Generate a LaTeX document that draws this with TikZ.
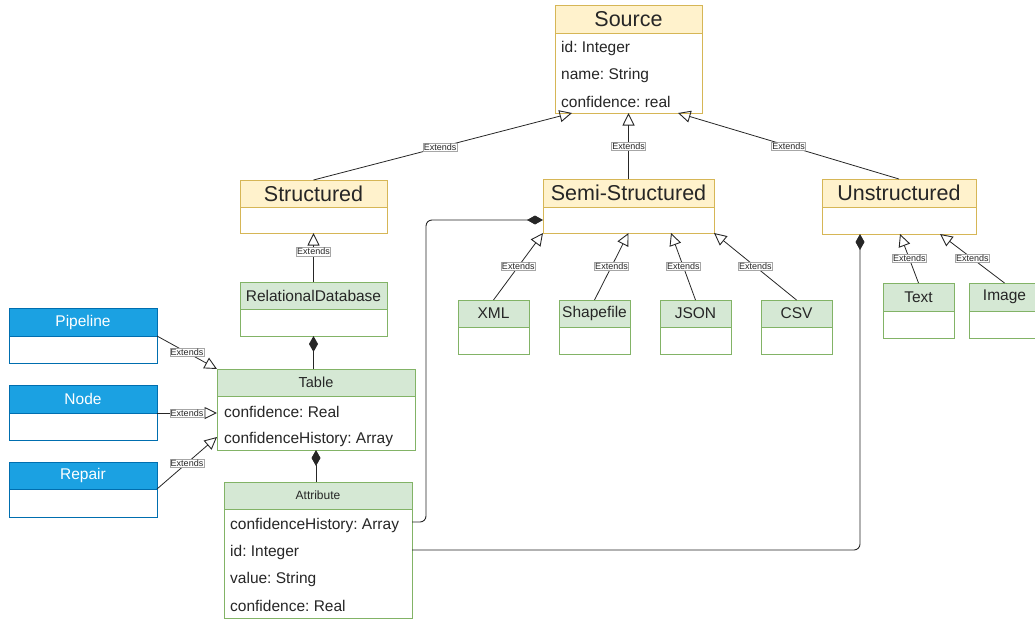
\documentclass[tikz,border=0pt]{standalone}
\usepackage{fontspec}
\setmainfont{Liberation Sans}
\usetikzlibrary{arrows.meta,calc}
\definecolor{ylfill}{HTML}{FFF2CC}
\definecolor{ylline}{HTML}{D6B656}
\definecolor{grfill}{HTML}{D5E8D4}
\definecolor{grline}{HTML}{82B366}
\definecolor{blfill}{HTML}{1BA1E2}
\definecolor{blline}{HTML}{006EAF}
\definecolor{ink}{HTML}{262626}

% class box: header node #1 and body node #1b
% #1 name, #2 x, #3 y, #4 width, #5 header height, #6 body height, #7 style prefix, #8 title
\newcommand\umlclass[8]{%
  \node[#7head, minimum width=#4pt, minimum height=#5pt] (#1) at (#2,#3) {#8};
  \node[#7body, minimum width=#4pt, minimum height=#6pt] (#1b) at (#1.south west) {};
}

\begin{document}
\frenchspacing
\begin{tikzpicture}[x=1pt,y=-1pt,
  box/.style={draw, anchor=north west, inner sep=0pt, outer sep=0pt, line width=1pt, text=ink},
  yhead/.style={box, draw=ylline, fill=ylfill, font=\fontsize{21.5}{24}\selectfont},
  ybody/.style={box, draw=ylline, fill=white},
  ghead/.style={box, draw=grline, fill=grfill, font=\fontsize{15.5}{18}\selectfont},
  gbody/.style={box, draw=grline, fill=white},
  bhead/.style={box, draw=blline, fill=blfill, text=white, font=\fontsize{15.5}{18}\selectfont},
  bbody/.style={box, draw=blline, fill=white},
  row/.style={anchor=west, inner sep=0pt, text=ink, font=\fontsize{15.5}{18}\selectfont},
  ext/.style={draw=ink, line width=0.8pt, -{Triangle[open, length=12.5pt, width=12pt, line width=0.9pt]}},
  compo/.style={draw=ink, line width=0.9pt, rounded corners=6pt, {Diamond[length=16pt, width=9pt]}-},
  lbl/.style={fill=white, draw=black!35, line width=0.4pt, inner sep=0.8pt, text=ink,
    font=\fontsize{9}{9}\selectfont}
]
\useasboundingbox (0,0) rectangle (1035,621);

% ---------- classes ----------
\umlclass{src}{555}{5}{147}{28}{80}{y}{Source}
\node[row] (s1) at (561,48) {id: Integer};
\node[row] (s2) at (561,75) {name: String};
\node[row] (s3) at (561,102) {confidence: real};

\umlclass{st}{240}{180}{147}{27}{26}{y}{Structured}
\umlclass{semi}{543}{179}{171}{28}{26}{y}{Semi-Structured}
\umlclass{un}{822}{179}{154}{28}{27}{y}{Unstructured}

\umlclass{rd}{240}{282}{147}{27}{27}{g}{RelationalDatabase}

\umlclass{xml}{458}{300}{71}{27}{27}{g}{XML}
\umlclass{shp}{559}{300}{71}{27}{27}{g}{Shapefile}
\umlclass{json}{660}{300}{71}{27}{27}{g}{JSON}
\umlclass{csv}{761}{300}{71}{27}{27}{g}{CSV}

\umlclass{txt}{883}{283}{71}{28}{27}{g}{Text}
\umlclass{img}{969}{283}{71}{28}{27}{g}{Image}

\umlclass{pipe}{9}{308}{148}{28}{27}{b}{Pipeline}
\umlclass{nd}{9}{385}{148}{28}{27}{b}{Node}
\umlclass{rep}{9}{462}{148}{27}{28}{b}{Repair}

\umlclass{tbl}{217}{369}{198}{27}{54}{g}{\fontsize{14.5}{17}\selectfont Table}
\node[row] (t1) at (224,412) {confidence: Real};
\node[row] (t2) at (224,439) {confidenceHistory: Array};

\umlclass{attr}{224}{482}{188}{27}{109}{g}{\fontsize{12}{14}\selectfont Attribute}
\node[row] (a1) at (230,525) {confidenceHistory: Array};
\node[row] (a2) at (230,552) {id: Integer};
\node[row] (a3) at (230,579) {value: String};
\node[row] (a4) at (230,606) {confidence: Real};

% ---------- generalisations ----------
\draw[ext] (st.north) -- node[lbl, pos=0.49] {Extends} ($(srcb.south west)+(17,0)$);
\draw[ext] (semi.north) -- node[lbl] {Extends} (semi.north |- srcb.south);
\draw[ext] (un.north) -- node[lbl] {Extends} ($(srcb.south east)+(-24,0)$);

\draw[ext] (rd.north) -- node[lbl, pos=0.62] {Extends} (rd.north |- stb.south);

\draw[ext] (xml.north) -- node[lbl] {Extends} (semib.south west);
\draw[ext] (shp.north) -- node[lbl] {Extends} (semib.south);
\draw[ext] (json.north) -- node[lbl] {Extends} ($(semib.south west)+(128,0)$);
\draw[ext] (csv.north) -- node[lbl] {Extends} (semib.south east);

\draw[ext] (txt.north) -- node[lbl] {Extends} ($(unb.south west)+(78,0)$);
\draw[ext] (img.north) -- node[lbl] {Extends} ($(unb.south west)+(118,0)$);

\draw[ext] (pipe.south east) -- node[lbl] {Extends} (tbl.north west);
\draw[ext] (nd.south east) -- node[lbl] {Extends} (nd.south east -| tblb.west);
\draw[ext] (rep.south east) -- node[lbl] {Extends} ($(tblb.south west)+(0,-13)$);

% ---------- compositions ----------
\draw[compo] (rdb.south) -- (rdb.south |- tbl.north);
\draw[compo] (tblb.south) -- (tblb.south |- attr.north);

\coordinate (c1) at ($(attrb.north east)+(0,13)$);
\draw[compo] (semib.west) -| ($(c1)+(14,0)$) -- (c1);

\coordinate (c2) at ($(attrb.north east)+(0,41)$);
\draw[compo] ($(unb.south west)+(38,0)$) |- (c2);
\end{tikzpicture}
\end{document}
